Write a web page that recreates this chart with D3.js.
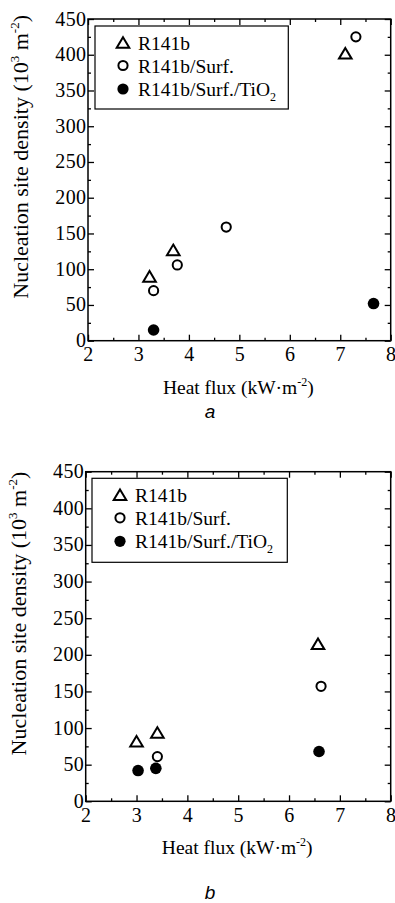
<!DOCTYPE html>
<html>
<head>
<meta charset="utf-8">
<script src="https://cdn.jsdelivr.net/npm/d3@7"></script>
<style>
  body { margin: 0; background: #fff; }
  svg { display: block; }
</style>
</head>
<body>
<div id="chart"></div>
<script>
// data
var seriesNames = ["R141b", "R141b/Surf.", "R141b/Surf./TiO2"];
var xTicks = [2, 3, 4, 5, 6, 7, 8];
var yTicks = [0, 50, 100, 150, 200, 250, 300, 350, 400, 450];

// panel a
var fluxA_R141b = [3.22, 3.69, 7.10];
var densA_R141b = [90, 127, 402];
var fluxA_Surf = [3.30, 3.77, 4.74, 7.31];
var densA_Surf = [70, 106, 159, 425];
var fluxA_TiO2 = [3.30, 7.66];
var densA_TiO2 = [15, 52];

// panel b
var fluxB_R141b = [3.00, 3.41, 6.57];
var densB_R141b = [82, 94, 215];
var fluxB_Surf = [3.41, 6.63];
var densB_Surf = [61, 157];
var fluxB_TiO2 = [3.03, 3.38, 6.59];
var densB_TiO2 = [42, 45, 68];

var width = 395;
var height = 903;
var serif = "'Liberation Serif', 'Times New Roman', Times, 'DejaVu Serif', serif";
var sans = "'Liberation Sans', Arial, sans-serif";

var svg = d3.select("#chart")
    .append("svg")
    .attr("width", width)
    .attr("height", height);

function triPath(cx, cy) {
  var w = 6.3, h = 5.3;
  return "M" + cx + "," + (cy - h) + "L" + (cx + w) + "," + (cy + h) + "L" + (cx - w) + "," + (cy + h) + "Z";
}

function zip(xs, ys) { return xs.map((x, i) => ({x: x, y: ys[i]})); }

function panel(box, sets, legendBox, label, labelY) {
  var x = d3.scaleLinear().domain([2, 8]).range([box.left, box.right]);
  var y = d3.scaleLinear().domain([0, 450]).range([box.bottom, box.top]);
  var g = svg.append("g");

  var minorX = d3.range(2.5, 8, 1);
  var minorY = d3.range(25, 450, 50);
  var fmt = d3.format("d");

  // major + minor ticks, inward on all four sides
  g.append("g").attr("transform", `translate(0,${box.bottom})`)
    .call(d3.axisBottom(x).tickValues(xTicks).tickFormat(fmt).tickSize(-6).tickPadding(6.5).tickSizeOuter(0));
  g.append("g").attr("transform", `translate(0,${box.bottom})`)
    .call(d3.axisBottom(x).tickValues(minorX).tickSize(-3).tickFormat(""));
  g.append("g").attr("transform", `translate(0,${box.top})`)
    .call(d3.axisTop(x).tickValues(xTicks).tickSize(-6).tickFormat(""));
  g.append("g").attr("transform", `translate(0,${box.top})`)
    .call(d3.axisTop(x).tickValues(minorX).tickSize(-3).tickFormat(""));

  g.append("g").attr("class", "yax").attr("transform", `translate(${box.left},0)`)
    .call(d3.axisLeft(y).tickValues(yTicks).tickFormat(fmt).tickSize(-6).tickPadding(1.5));
  g.append("g").attr("transform", `translate(${box.left},0)`)
    .call(d3.axisLeft(y).tickValues(minorY).tickSize(-3).tickFormat(""));
  g.append("g").attr("transform", `translate(${box.right},0)`)
    .call(d3.axisRight(y).tickValues(yTicks).tickSize(-6).tickFormat(""));
  g.append("g").attr("transform", `translate(${box.right},0)`)
    .call(d3.axisRight(y).tickValues(minorY).tickSize(-3).tickFormat(""));

  g.selectAll(".domain").remove();
  g.selectAll(".tick line").attr("stroke", "#000").attr("stroke-width", 1.3);
  g.selectAll(".tick text")
    .attr("fill", "#000")
    .style("font-family", serif)
    .style("font-size", "20px")
    .style("letter-spacing", "0.4px");
  g.selectAll(".yax .tick text").attr("dy", "0.3em");

  // frame
  g.append("rect")
    .attr("x", box.left).attr("y", box.top)
    .attr("width", box.right - box.left).attr("height", box.bottom - box.top)
    .attr("fill", "none").attr("stroke", "#000").attr("stroke-width", 1.5);

  // legend
  g.append("rect")
    .attr("x", legendBox.x).attr("y", legendBox.y)
    .attr("width", legendBox.w).attr("height", legendBox.h)
    .attr("fill", "none").attr("stroke", "#000").attr("stroke-width", 1.2);
  var rows = [legendBox.y + 16.5, legendBox.y + 39.5, legendBox.y + 63];
  var sx = legendBox.x + 28, tx = legendBox.x + 43;
  g.append("path").attr("d", triPath(sx, rows[0])).attr("fill", "none").attr("stroke", "#000").attr("stroke-width", 2);
  g.append("circle").attr("cx", sx).attr("cy", rows[1]).attr("r", 4.6).attr("fill", "none").attr("stroke", "#000").attr("stroke-width", 2);
  g.append("circle").attr("cx", sx).attr("cy", rows[2]).attr("r", 5.6).attr("fill", "#000");
  var leg = [];
  leg.push(g.append("text").attr("x", tx).attr("y", rows[0] + 7).text(seriesNames[0]));
  leg.push(g.append("text").attr("x", tx).attr("y", rows[1] + 7).text(seriesNames[1]));
  var t3 = g.append("text").attr("x", tx).attr("y", rows[2] + 7);
  t3.append("tspan").text("R141b/Surf./TiO");
  t3.append("tspan").attr("dy", 5).style("font-size", "12px").text("2");
  leg.push(t3);
  leg.forEach(t => t.style("font-family", serif).style("font-size", "19.5px"));

  // data
  g.append("g").selectAll("path")
    .data(zip(sets.r141b[0], sets.r141b[1]))
    .join("path")
    .attr("d", d => triPath(x(d.x), y(d.y)))
    .attr("fill", "none").attr("stroke", "#000").attr("stroke-width", 2);
  g.append("g").selectAll("circle")
    .data(zip(sets.surf[0], sets.surf[1]))
    .join("circle")
    .attr("cx", d => x(d.x)).attr("cy", d => y(d.y)).attr("r", 4.6)
    .attr("fill", "none").attr("stroke", "#000").attr("stroke-width", 2);
  g.append("g").selectAll("circle")
    .data(zip(sets.tio2[0], sets.tio2[1]))
    .join("circle")
    .attr("cx", d => x(d.x)).attr("cy", d => y(d.y)).attr("r", 5.8)
    .attr("fill", "#000");

  // axis titles
  var xt = g.append("text")
    .attr("x", (box.left + box.right) / 2 - 1)
    .attr("y", box.bottom + 53)
    .attr("text-anchor", "middle")
    .style("font-family", serif)
    .style("font-size", "19.5px");
  xt.append("tspan").text("Heat flux (kW\u00b7m");
  xt.append("tspan").attr("dy", -8).style("font-size", "12px").text("-2");
  xt.append("tspan").attr("dy", 8).text(")");

  var cy = (box.top + box.bottom) / 2 - 23;
  var yt = g.append("text")
    .attr("transform", `translate(${box.left - 60},${cy}) rotate(-90)`)
    .attr("text-anchor", "middle")
    .style("font-family", serif)
    .style("font-size", "22px");
  yt.append("tspan").text("Nucleation site density (10");
  yt.append("tspan").attr("dy", -9).style("font-size", "13px").text("3");
  yt.append("tspan").attr("dy", 9).text(" m");
  yt.append("tspan").attr("dy", -9).style("font-size", "13px").text("-2");
  yt.append("tspan").attr("dy", 9).text(")");

  // panel letter
  g.append("text")
    .attr("x", 210).attr("y", labelY)
    .attr("text-anchor", "middle")
    .style("font-family", sans)
    .style("font-style", "italic")
    .style("font-size", "19px")
    .text(label);
}

panel({left: 88, right: 390.7, top: 19, bottom: 340.7},
  {r141b: [fluxA_R141b, densA_R141b], surf: [fluxA_Surf, densA_Surf], tio2: [fluxA_TiO2, densA_TiO2]},
  {x: 95, y: 26, w: 193.3, h: 83}, "a", 418);

panel({left: 85.7, right: 390.7, top: 471.7, bottom: 801.3},
  {r141b: [fluxB_R141b, densB_R141b], surf: [fluxB_Surf, densB_Surf], tio2: [fluxB_TiO2, densB_TiO2]},
  {x: 92, y: 478.3, w: 195.3, h: 84}, "b", 899);
</script>
</body>
</html>
